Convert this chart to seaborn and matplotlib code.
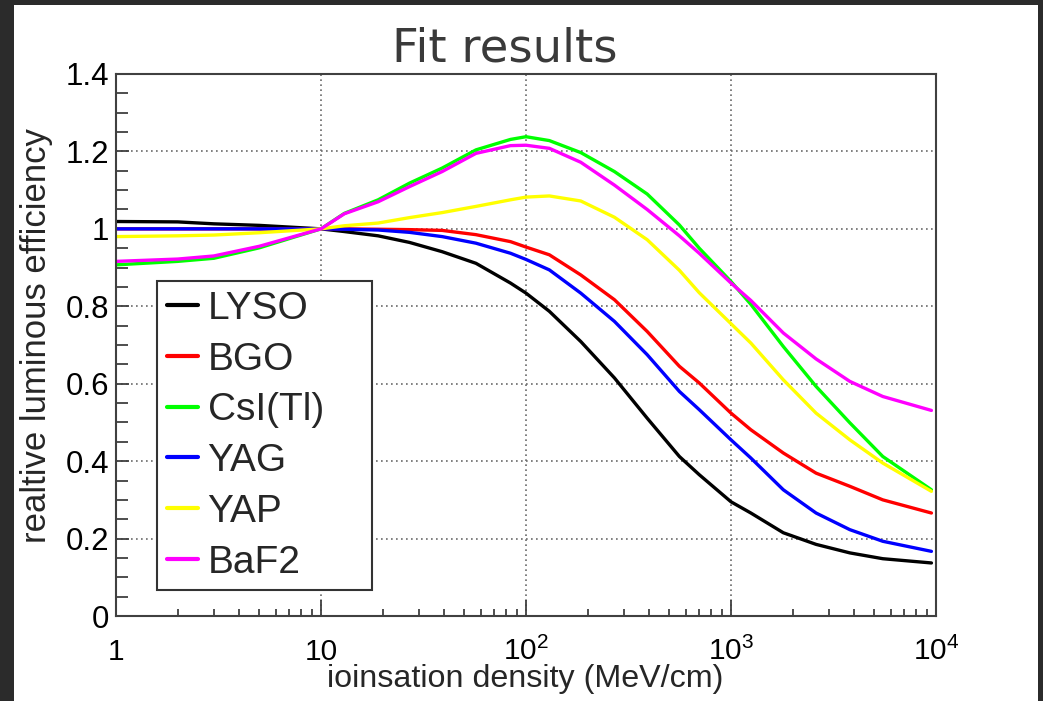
import numpy as np
import pandas as pd
import matplotlib
matplotlib.use("Agg")
import matplotlib.pyplot as plt
import seaborn as sns
from matplotlib.patches import Rectangle
from matplotlib.lines import Line2D
from matplotlib.ticker import FixedLocator, LogLocator, MultipleLocator, NullFormatter, FuncFormatter

# ionisation density (MeV/cm)
density = [1, 2, 3, 5, 10, 13, 19, 27, 39, 57, 84, 100, 130, 185, 270, 390,
           560, 700, 1000, 1250, 1800, 2600, 3800, 5500, 9500]

# relative luminous efficiency per crystal
lyso = [1.019, 1.018, 1.013, 1.009, 1.0, 0.993, 0.982, 0.965, 0.941, 0.911, 0.86, 0.834,
        0.787, 0.709, 0.615, 0.511, 0.412, 0.365, 0.295, 0.266, 0.215, 0.185, 0.163, 0.148, 0.137]
bgo = [1.0, 1.0, 1.0, 1.0, 1.0, 1.0, 0.999, 0.998, 0.996, 0.985, 0.967, 0.953,
       0.933, 0.881, 0.817, 0.735, 0.645, 0.602, 0.524, 0.481, 0.421, 0.369, 0.335, 0.30, 0.266]
csi = [0.907, 0.916, 0.924, 0.951, 1.0, 1.04, 1.075, 1.118, 1.157, 1.204, 1.231, 1.238,
       1.228, 1.197, 1.148, 1.09, 1.01, 0.95, 0.864, 0.805, 0.696, 0.593, 0.499, 0.412, 0.326]
yag = [1.0, 1.0, 1.0, 1.0, 1.0, 0.999, 0.997, 0.991, 0.98, 0.963, 0.937, 0.921,
       0.894, 0.834, 0.761, 0.675, 0.580, 0.533, 0.455, 0.408, 0.326, 0.266, 0.223, 0.193, 0.167]
yap = [0.98, 0.982, 0.984, 0.99, 1.0, 1.008, 1.015, 1.029, 1.042, 1.058, 1.075, 1.082,
       1.085, 1.072, 1.03, 0.972, 0.893, 0.835, 0.755, 0.705, 0.61, 0.524, 0.455, 0.395, 0.322]
baf2 = [0.916, 0.922, 0.93, 0.955, 1.0, 1.039, 1.07, 1.109, 1.148, 1.195, 1.215, 1.216,
        1.208, 1.172, 1.113, 1.05, 0.982, 0.937, 0.86, 0.815, 0.731, 0.664, 0.606, 0.567, 0.531]

crystals = ["LYSO", "BGO", "CsI(Tl)", "YAG", "YAP", "BaF2"]
colors = ["#000000", "#ff0000", "#00ff00", "#0000ff", "#ffff00", "#ff00ff"]

x_ticks = [1, 10, 100, 1000, 10000]
x_ticklabels = ["1", "10", "$10^{2}$", "$10^{3}$", "$10^{4}$"]

series = dict(zip(crystals, [lyso, bgo, csi, yag, yap, baf2]))
df = pd.concat(
    [pd.DataFrame({"density": density, "efficiency": vals, "crystal": name})
     for name, vals in series.items()],
    ignore_index=True,
)

sns.set_theme(style="white")
plt.rcParams.update({
    "font.family": ["Liberation Sans", "DejaVu Sans"],
    "mathtext.fontset": "custom",
    "mathtext.rm": "Liberation Sans",
    "mathtext.it": "Liberation Sans:italic",
    "mathtext.default": "regular",
})

fig = plt.figure(figsize=(10.43, 7.01), dpi=100, facecolor="#2b2b2b")
# white canvas inside the dark frame
fig.patches.append(Rectangle((14 / 1043, 0), (1038 - 14) / 1043, 696 / 701,
                             transform=fig.transFigure, facecolor="white",
                             edgecolor="none", zorder=-10))
ax = fig.add_axes([116 / 1043, 85 / 701, 820 / 1043, 542 / 701])
ax.set_zorder(1)

palette = dict(zip(crystals, colors))
sns.lineplot(data=df, x="density", y="efficiency", hue="crystal", hue_order=crystals,
             palette=palette, estimator=None, sort=False, linewidth=2.4,
             legend=False, ax=ax)

ax.set_xscale("log")
ax.set_xlim(1, 1e4)
ax.set_ylim(0, 1.4)

ax.xaxis.set_major_locator(FixedLocator(x_ticks))
ax.set_xticklabels(x_ticklabels)
ax.xaxis.set_minor_locator(LogLocator(base=10, subs=np.arange(2, 10)))
ax.xaxis.set_minor_formatter(NullFormatter())
ax.yaxis.set_major_locator(MultipleLocator(0.2))
ax.yaxis.set_minor_locator(MultipleLocator(0.05))
ax.yaxis.set_major_formatter(FuncFormatter(lambda v, p: f"{v:g}"))

tick_col = "#404040"
ax.tick_params(axis="both", which="both", direction="in", bottom=True, left=True,
               top=False, right=False, color=tick_col, width=1.3, labelcolor="black")
ax.tick_params(axis="x", which="major", length=11.5, pad=32, labelsize=21.5)
ax.tick_params(axis="x", which="minor", length=5)
ax.tick_params(axis="y", which="major", length=9, pad=5, labelsize=22.5)
ax.tick_params(axis="y", which="minor", length=8.6)
for lbl in ax.get_xticklabels():
    lbl.set_verticalalignment("baseline")

for sp in ax.spines.values():
    sp.set_color(tick_col)
    sp.set_linewidth(1.5)

ax.grid(True, which="major", color="#6a6a6a", linestyle=(0, (1, 2)), linewidth=1.2)
ax.set_axisbelow(True)

ax.set_xlabel("ioinsation density (MeV/cm)", fontsize=23.2)
ax.xaxis.set_label_coords(0.499, -0.089)
ax.set_ylabel("realtive luminous efficiency", fontsize=25)
ax.yaxis.set_label_coords(-0.077, 0.518)

fig.text(505 / 1043, 1 - 61 / 701, "Fit results", family="DejaVu Sans", fontsize=33.5,
         color="#3a3a3a", ha="center", va="baseline")

handles = [Line2D([0], [0], color=c, lw=3) for c in colors]
leg = ax.legend(handles, crystals, loc="upper left",
                bbox_to_anchor=(0.05, 0.046, 0.262, 0.572), mode="expand",
                borderaxespad=0, fontsize=28, handlelength=0.8, handletextpad=0.25,
                labelspacing=0.38, borderpad=0.25, frameon=True, fancybox=False,
                edgecolor="#333333", framealpha=1)
leg.get_frame().set_linewidth(1.5)

fig.savefig("out.png", dpi=100, facecolor=fig.get_facecolor())
